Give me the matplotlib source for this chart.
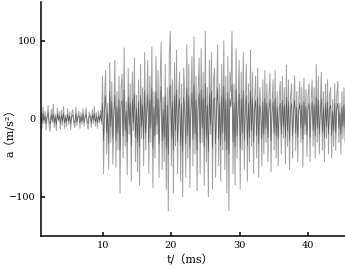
import numpy as np
import matplotlib
matplotlib.use('Agg')
import matplotlib.pyplot as plt

# time axis: 1.0 ms .. 45.4 ms, 0.15 ms step
t_start = 1.0
t_step = 0.15

# light trace (m/s^2)
gray = [
    8, -12, 15, -6, 10, -14, 4, 17, -9, -16, 12, -5, 19, -11, 6, -15, 14, -3, 9, -13,
    11, -8, 16, -12, 5, -10, 13, -7, 9, -14, 7, 12, -6, -11, 15, -9, 4, 10, -12, 8,
    -7, 13, -10, 6, 14, -8, -13, 9, 5, -11, 12, -6, 16, -9, 8, -12, 10, -5, 11, -7,
    55, -70, 30, 62, -45, 20, -65, 72, -30, 48, -58, 10, 75, -62, 35, -40, 55, -95, 40, 58,
    -50, 91, -35, 22, -72, 65, -20, 45, -80, 60, -15, 78, -55, 30, -68, 50, -85, 70, -25, 40,
    -60, 85, -40, 15, 75, -70, 55, -30, 92, -88, 35, -50, 80, -20, 62, -75, 45, 98, -65, 28,
    -55, 70, -90, 40, -118, 85, 112, -60, 50, -95, 72, -35, 88, -70, 25, 60, -80, 45, -100, 65,
    30, -75, 95, -50, 70, -88, 20, 80, -60, 105, -45, 55, -92, 35, 78, -70, 90, -30, 60, -85,
    112, -55, 40, -100, 75, -20, 85, -90, 50, 65, -75, 30, 95, -60, 45, -80, 70, -40, 100, -65,
    55, -95, 80, -118, 60, 35, 112, -70, 45, -85, 90, -50, 25, 75, -90, 60, -40, 85, -65, 30,
    70, -80, 45, -55, 88, -35, 60, -70, 25, 55, -50, 65, -75, 40, 20, -60, 50, -45, 62, -30,
    45, -55, 30, 58, -68, 20, 50, -40, 62, -50, 35, -60, 28, 48, -45, 55, -25, 40, -58, 69,
    -35, 50, -65, 30, 45, -50, 20, 55, -40, 35, -55, 25, 48, -30, 40, -62, 52, -20, 38, -48,
    30, 45, -55, 25, 50, -35, 40, -50, 70, -30, 55, -45, 20, 60, -40, 35, -55, 45, -25, 50,
    -45, 30, 40, -50, 25, -35, 45, -40, 30, 48, -30, 20, -45, 35, -25, 40, -30,
]

# dark trace (m/s^2)
dark = [
    3, -5, 7, -2, 4, -6, 2, 8, -4, -7, 5, -2, 6, -5, 3, -7, 6, -1, 4, -6,
    5, -3, 7, -5, 2, -4, 6, -3, 4, -6, 3, 5, -2, -5, 7, -4, 2, 4, -5, 3,
    -3, 6, -4, 2, 6, -3, -6, 4, 2, -5, 5, -2, 7, -4, 3, -5, 4, -2, 5, -3,
    20, -28, 12, 30, -18, 8, -32, 35, -10, 22, -25, 5, 30, -28, 15, -18, 25, -40, 18, 24,
    -22, 38, -15, 10, -30, 28, -8, 20, -35, 25, -6, 32, -24, 14, -30, 22, -36, 30, -10, 18,
    -26, 36, -18, 6, 32, -30, 24, -12, 40, -38, 15, -22, 34, -8, 26, -32, 20, 42, -28, 12,
    -24, 30, -38, 18, -45, 36, 44, -26, 22, -40, 30, -15, 38, -30, 10, 26, -34, 20, -42, 28,
    12, -32, 40, -22, 30, -38, 8, 34, -26, 44, -20, 24, -40, 15, 33, -30, 38, -12, 26, -36,
    45, -24, 18, -42, 32, -8, 36, -38, 22, 28, -32, 12, 40, -26, 20, -34, 30, -18, 42, -28,
    24, -40, 34, -45, 26, 15, 44, -30, 20, -36, 38, -22, 10, 32, -38, 26, -18, 36, -28, 12,
    30, -34, 20, -24, 36, -15, 26, -30, 10, 24, -22, 28, -32, 18, 8, -26, 22, -20, 26, -12,
    20, -24, 12, 25, -28, 8, 22, -18, 26, -22, 15, -25, 12, 20, -20, 24, -10, 18, -24, 28,
    -15, 22, -28, 12, 20, -22, 8, 24, -18, 15, -24, 10, 20, -12, 18, -26, 22, -8, 16, -20,
    12, 20, -24, 10, 22, -15, 18, -22, 28, -12, 24, -20, 8, 26, -18, 15, -24, 20, -10, 22,
    -20, 12, 18, -22, 10, -15, 20, -18, 12, 20, -12, 8, -20, 15, -10, 18, -12,
]

x_ticks = [10, 20, 30, 40]
y_ticks = [-100, 0, 100]

t = t_start + t_step * np.arange(len(gray))

plt.rcParams['font.family'] = ['DejaVu Serif', 'Noto Sans CJK SC']
plt.rcParams['font.size'] = 7

fig = plt.figure(figsize=(3.45, 2.69), dpi=100)
ax = fig.add_axes([0.12, 0.123, 0.88, 0.87])

ax.plot(t, gray, color='#a0a0a0', linewidth=0.7)
ax.plot(t, dark, color='#5a5a5a', linewidth=0.45)

ax.set_xlim(1.07, 45.4)
ax.set_ylim(-150, 150)
ax.set_xticks(x_ticks)
ax.set_yticks(y_ticks)
ax.set_yticklabels(['\u2212100', '0', '100'])

for side in ['top', 'right']:
    ax.spines[side].set_visible(False)
for side in ['left', 'bottom']:
    ax.spines[side].set_linewidth(1.1)

ax.tick_params(direction='in', length=3, width=1.1, pad=4)

ax.set_xlabel('t/（ms）', fontsize=8)
ax.set_ylabel('a（m/s²）', fontsize=8)
ax.xaxis.set_label_coords(0.49, -0.08)
ax.yaxis.set_label_coords(-0.085, 0.45)

fig.savefig('out.png', dpi=100)
